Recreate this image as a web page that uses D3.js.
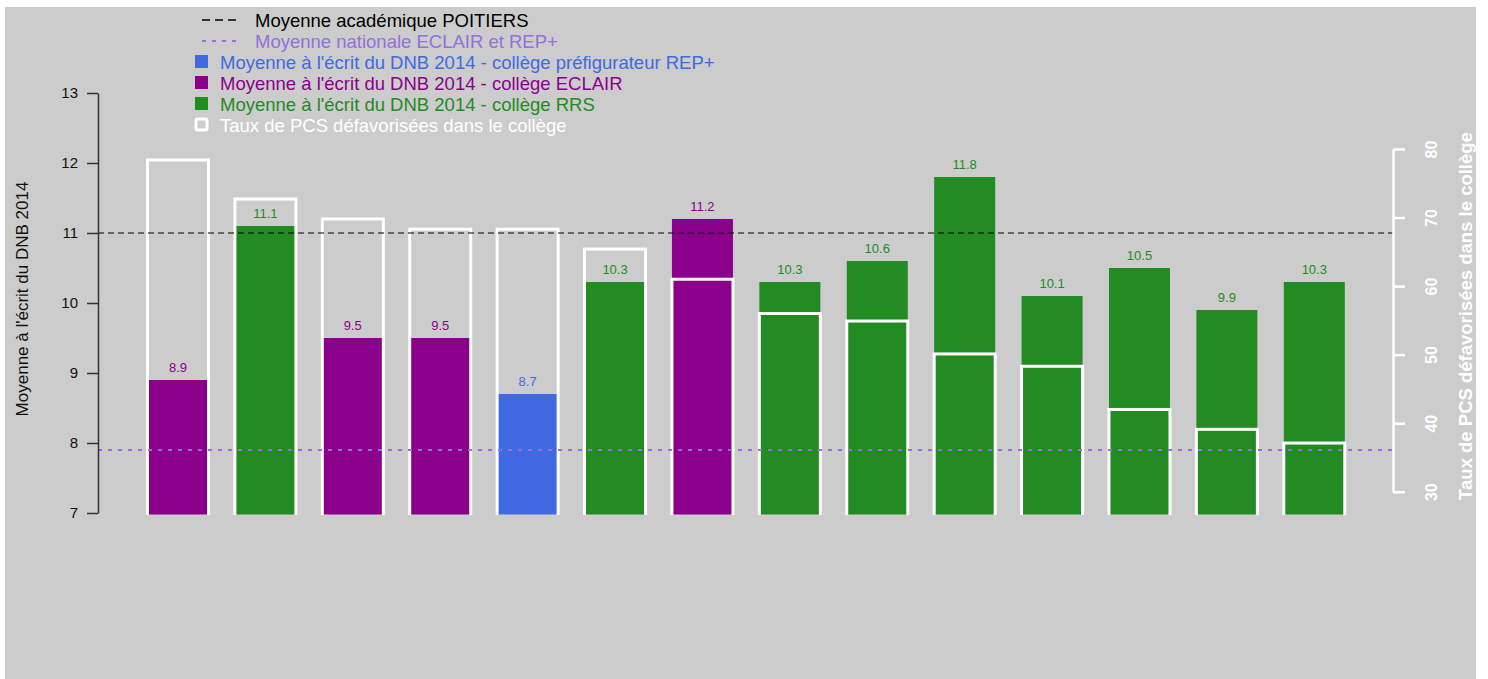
<!DOCTYPE html>
<html>
<head>
<meta charset="utf-8">
<script src="https://cdn.jsdelivr.net/npm/d3@7"></script>
<style>
  body { margin: 0; background: #fff; }
  svg { display: block; font-family: "Liberation Sans", Arial, sans-serif; }
</style>
</head>
<body>
<div id="chart"></div>
<script>
// data
const colleges = ["C1", "C2", "C3", "C4", "C5", "C6", "C7", "C8", "C9", "C10", "C11", "C12", "C13", "C14"];
const types = ["ECLAIR", "RRS", "ECLAIR", "ECLAIR", "REP+", "RRS", "ECLAIR", "RRS", "RRS", "RRS", "RRS", "RRS", "RRS", "RRS"];
const moyennes = [8.9, 11.1, 9.5, 9.5, 8.7, 10.3, 11.2, 10.3, 10.6, 11.8, 10.1, 10.5, 9.9, 10.3];
const tauxPCS = [78.4, 72.7, 69.8, 68.3, 68.3, 65.4, 61.0, 56.0, 54.9, 50.1, 48.3, 42.0, 39.1, 37.1];
const moyAcademique = 11.0;
const moyNationale = 7.9;
const leftTicks = [7, 8, 9, 10, 11, 12, 13];
const rightTicks = [30, 40, 50, 60, 70, 80];

const legendItems = [
  {label: "Moyenne académique POITIERS", kind: "dash", color: "#000000"},
  {label: "Moyenne nationale ECLAIR et REP+", kind: "dot", color: "#9370DB"},
  {label: "Moyenne à l'écrit du DNB 2014 - collège préfigurateur REP+", kind: "box", color: "#4169E1"},
  {label: "Moyenne à l'écrit du DNB 2014 - collège ECLAIR", kind: "box", color: "#8B008B"},
  {label: "Moyenne à l'écrit du DNB 2014 - collège RRS", kind: "box", color: "#228B22"},
  {label: "Taux de PCS défavorisées dans le collège", kind: "outline", color: "#ffffff"}
];

const colors = { "REP+": "#4169E1", "ECLAIR": "#8B008B", "RRS": "#228B22" };

const W = 1488, H = 679;
const plot = {left: 98, right: 1393, top: 93, bottom: 513};

const svg = d3.select("#chart").append("svg")
  .attr("width", W).attr("height", H);

// grey panel
svg.append("rect")
  .attr("x", 5).attr("y", 7)
  .attr("width", 1471).attr("height", 672)
  .attr("fill", "#cccccc");

const data = colleges.map((c, i) => ({id: c, type: types[i], moy: moyennes[i], pcs: tauxPCS[i]}));

const x = d3.scaleBand()
  .domain(colleges)
  .range([134.3, 1358])
  .paddingInner(0.302)
  .paddingOuter(0.151);

const y = d3.scaleLinear().domain([7, 13]).range([plot.bottom, plot.top]);
const y2 = d3.scaleLinear().domain([30, 80]).range([491.7, 149]);

svg.append("clipPath").attr("id", "clip")
  .append("rect")
  .attr("x", 0).attr("y", 0)
  .attr("width", W).attr("height", 515);

// filled bars (note moyenne)
svg.append("g")
  .selectAll("rect")
  .data(data)
  .join("rect")
  .attr("x", d => x(d.id))
  .attr("y", d => y(d.moy))
  .attr("width", x.bandwidth())
  .attr("height", d => y(7) - y(d.moy) + 1.5)
  .attr("fill", d => colors[d.type]);

// white outlined bars (taux PCS, right axis)
svg.append("g")
  .attr("clip-path", "url(#clip)")
  .selectAll("rect")
  .data(data)
  .join("rect")
  .attr("x", d => x(d.id))
  .attr("y", d => y2(d.pcs))
  .attr("width", x.bandwidth())
  .attr("height", d => 530 - y2(d.pcs))
  .attr("fill", "none")
  .attr("stroke", "#ffffff")
  .attr("stroke-width", 3);

// reference lines
svg.append("line")
  .attr("x1", plot.left).attr("x2", plot.right)
  .attr("y1", y(moyAcademique)).attr("y2", y(moyAcademique))
  .attr("stroke", "#000").attr("stroke-width", 1.2)
  .attr("stroke-dasharray", "6,4");

svg.append("line")
  .attr("x1", plot.left).attr("x2", plot.right)
  .attr("y1", y(moyNationale)).attr("y2", y(moyNationale))
  .attr("stroke", "#9370DB").attr("stroke-width", 2)
  .attr("stroke-dasharray", "4,6");

// value labels
svg.append("g")
  .selectAll("text")
  .data(data)
  .join("text")
  .attr("x", d => x(d.id) + x.bandwidth() / 2)
  .attr("y", d => y(d.moy) - 8)
  .attr("text-anchor", "middle")
  .attr("fill", d => colors[d.type])
  .style("font-size", "13px")
  .text(d => d.moy.toFixed(1));

// left axis
const leftAxis = svg.append("g")
  .attr("transform", `translate(${plot.left},0)`)
  .call(d3.axisLeft(y).tickValues(leftTicks).tickFormat(d3.format("d"))
    .tickSize(11).tickPadding(9).tickSizeOuter(0));
leftAxis.select(".domain").attr("stroke", "#333").attr("stroke-width", 1.5);
leftAxis.selectAll(".tick line").attr("stroke", "#333").attr("stroke-width", 1.5);
leftAxis.selectAll(".tick text")
  .attr("fill", "#111")
  .style("font-size", "15px")
  .style("font-family", "Liberation Sans, Arial, sans-serif");

svg.append("text")
  .attr("transform", `translate(22,299) rotate(-90)`)
  .attr("text-anchor", "middle")
  .attr("dominant-baseline", "central")
  .attr("fill", "#111")
  .style("font-size", "17px")
  .text("Moyenne à l'écrit du DNB 2014");

// right axis (white)
const rightAxis = svg.append("g")
  .attr("transform", `translate(${plot.right},0)`)
  .call(d3.axisRight(y2).tickValues(rightTicks).tickSize(12).tickFormat(d3.format("d")).tickSizeOuter(0));
rightAxis.select(".domain").attr("stroke", "#fff").attr("stroke-width", 2.5);
rightAxis.selectAll(".tick line").attr("stroke", "#fff").attr("stroke-width", 2.5);
rightAxis.selectAll(".tick text")
  .attr("fill", "#fff")
  .attr("x", 0).attr("dy", null)
  .attr("text-anchor", "middle")
  .attr("dominant-baseline", "central")
  .attr("transform", "translate(38,0) rotate(-90)")
  .style("font-size", "16px")
  .style("font-weight", "bold")
  .style("font-family", "Liberation Sans, Arial, sans-serif");

svg.append("text")
  .attr("transform", `translate(1465,316) rotate(-90)`)
  .attr("text-anchor", "middle")
  .attr("dominant-baseline", "central")
  .attr("fill", "#fff")
  .style("font-size", "18.5px")
  .style("font-weight", "bold")
  .text("Taux de PCS défavorisées dans le collège");

// legend
const legend = svg.append("g");
const rowY = d3.scaleLinear().domain([0, 5]).range([20, 125]);
legendItems.forEach((it, i) => {
  const cy = rowY(i);
  if (it.kind === "dash" || it.kind === "dot") {
    legend.append("line")
      .attr("x1", 202).attr("x2", 236)
      .attr("y1", cy).attr("y2", cy)
      .attr("stroke", it.color)
      .attr("stroke-width", it.kind === "dot" ? 2 : 1.3)
      .attr("stroke-dasharray", it.kind === "dot" ? "4,6" : "8,5");
  } else if (it.kind === "box") {
    legend.append("rect")
      .attr("x", 195).attr("y", cy - 7)
      .attr("width", 13).attr("height", 13)
      .attr("fill", it.color);
  } else {
    legend.append("rect")
      .attr("x", 196).attr("y", cy - 6)
      .attr("width", 11).attr("height", 11)
      .attr("rx", 1.5)
      .attr("fill", "none")
      .attr("stroke", it.color)
      .attr("stroke-width", 3);
  }
  legend.append("text")
    .attr("x", (it.kind === "dash" || it.kind === "dot") ? 255 : 220)
    .attr("y", cy)
    .attr("dominant-baseline", "central")
    .attr("fill", it.kind === "outline" ? "#ffffff" : it.color)
    .style("font-size", "18.5px")
    .text(it.label);
});
</script>
</body>
</html>
